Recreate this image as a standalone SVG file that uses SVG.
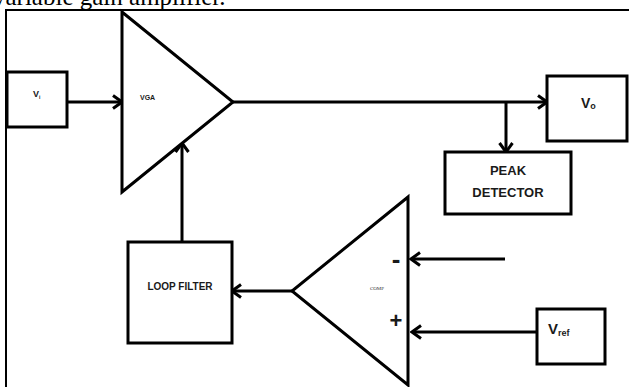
<svg xmlns="http://www.w3.org/2000/svg" width="629" height="387" viewBox="0 0 629 387">
<style>
.box{fill:#fff;stroke:#000;stroke-width:3}
.tri{fill:#fff;stroke:#000;stroke-width:3;stroke-linejoin:miter}
.wire{fill:none;stroke:#000;stroke-width:3}
.lbl{font-family:"Liberation Sans",Arial,sans-serif;font-weight:bold;fill:#1a1a1a}
</style>
<defs>
<marker id="arr" markerUnits="userSpaceOnUse" markerWidth="14" markerHeight="16" viewBox="0 0 14 16" refX="12" refY="8" orient="auto">
<path d="M3,1.5 L12,8 L3,14.5" fill="none" stroke="#000" stroke-width="3"/>
</marker>
</defs>
<rect width="629" height="387" fill="#fff"/>
<text x="-7" y="5" font-family="'Liberation Serif','Times New Roman',serif" font-size="25" fill="#000">variable gain amplifier.</text>
<g id="frame">
<path d="M6,387 V10 H629" fill="none" stroke="#000" stroke-width="2"/>
</g>
<g id="connectors">
<line class="wire" x1="67" y1="102" x2="122" y2="102" marker-end="url(#arr)"/>
<line class="wire" x1="233" y1="102" x2="547" y2="102" marker-end="url(#arr)"/>
<line class="wire" x1="506" y1="102" x2="506" y2="152" marker-end="url(#arr)"/>
<line class="wire" x1="182" y1="242" x2="182" y2="143" marker-end="url(#arr)"/>
<line class="wire" x1="292" y1="291" x2="232" y2="291" marker-end="url(#arr)"/>
<line class="wire" x1="505" y1="259" x2="411" y2="259" marker-end="url(#arr)"/>
<line class="wire" x1="537" y1="332" x2="412" y2="332" marker-end="url(#arr)"/>
</g>
<g id="vi">
<rect class="box" x="7" y="72" width="60" height="55"/>
<text class="lbl" x="33" y="97" font-size="9">V<tspan font-size="5" dy="1.5">i</tspan></text>
</g>
<g id="vga">
<polygon class="tri" points="122,12 233,102 122,192"/>
<text class="lbl" x="140" y="100" font-size="7">VGA</text>
</g>
<g id="vo">
<rect class="box" x="547" y="76" width="80" height="65"/>
<text class="lbl" x="581" y="108" font-size="14">V<tspan font-size="9" dy="1">o</tspan></text>
</g>
<g id="peak">
<rect class="box" x="445" y="152" width="126" height="62"/>
<text class="lbl" x="508" y="175" font-size="13" text-anchor="middle">PEAK</text>
<text class="lbl" x="508" y="197" font-size="13" text-anchor="middle">DETECTOR</text>
</g>
<g id="loopfilter">
<rect class="box" x="128" y="242" width="104" height="101"/>
<text class="lbl" x="180" y="290" font-size="10" text-anchor="middle">LOOP FILTER</text>
</g>
<g id="comp">
<polygon class="tri" points="408,197 292,291 408,385"/>
<text x="377" y="290" font-family="'Liberation Serif','Times New Roman',serif" font-size="5" text-anchor="middle" fill="#333">COMP</text>
<text class="lbl" x="396" y="268" font-size="26" text-anchor="middle">-</text>
<text class="lbl" x="396" y="328" font-size="22" text-anchor="middle">+</text>
</g>
<g id="vref">
<rect class="box" x="537" y="309" width="68" height="55"/>
<text class="lbl" x="548" y="334" font-size="15">V<tspan font-size="9" dy="2">ref</tspan></text>
</g>
</svg>
